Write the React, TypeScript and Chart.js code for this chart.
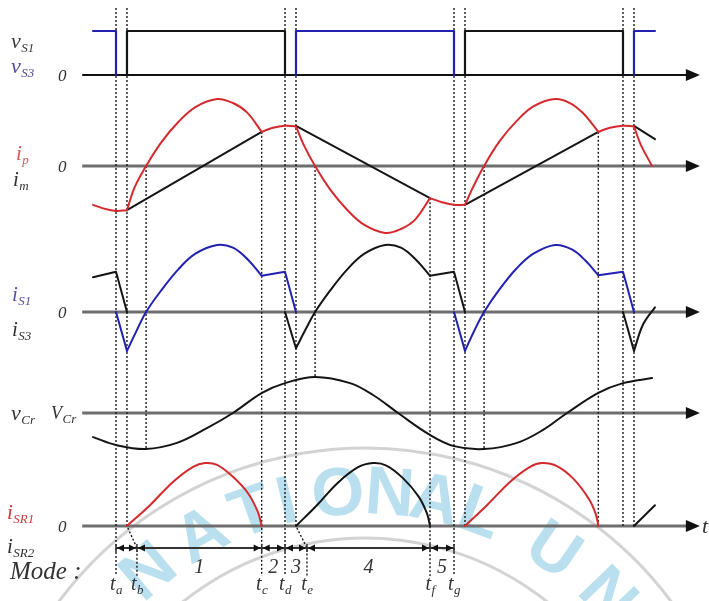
import React, { useEffect, useRef } from "react";
import { Chart, registerables } from "chart.js";

Chart.register(...registerables);

type Pt = [number, number];

// ---------- time (unit: half switching period = 10) ----------
const markerNames = ["a", "b", "c", "d", "e", "f", "g"];
const markerLabelTimes = [0, 1.24, 8.62, 10, 11.3, 18.58, 20];
const modeNames = ["1", "2", "3", "4", "5"];

const guideTimes = [0, 0.65, 1.78, 8.62, 10, 10.65, 11.78, 18.58, 20, 20.65, 21.78, 28.54, 30, 30.65];
const guideStartIp: (number | null)[] = [null, null, 0, 0.51, null, null, 0, -0.48, null, null, 0, 0.51, null, null];
const guideEnd = ["label", "slant", "vcrMin", "label", "label", "slant", "vcrMax", "label", "label", "isr", "vcrMin", "isr", "isr", "isr"];
const guideSlantTo: (number | null)[] = [null, 1.24, null, null, null, 11.3, null, null, null, null, null, null, null, null];

// ---------- gate voltages (normalised) ----------
const vS3Lines: Pt[][] = [
  [[-1.36, 1], [0, 1], [0, 0]],
  [[10.65, 0], [10.65, 1], [20, 1], [20, 0]],
  [[30.65, 0], [30.65, 1], [31.89, 1]],
];
const vS1Lines: Pt[][] = [
  [[0.65, 0], [0.65, 1], [10, 1], [10, 0]],
  [[20.65, 0], [20.65, 1], [30, 1], [30, 0]],
];

// ---------- primary & magnetising current ----------
const ipCurves: Pt[][] = [
  [[-1.36, -0.58], [-0.65, -0.64], [0, -0.67], [0.65, -0.66]],
  [[0.65, -0.66], [1.1, -0.32], [1.78, 0], [2.7, 0.36], [3.7, 0.66], [4.7, 0.88], [5.98, 1.0], [6.92, 0.94], [7.75, 0.8], [8.62, 0.51]],
  [[8.62, 0.51], [9.29, 0.57], [10, 0.6], [10.65, 0.59]],
  [[10.65, 0.59], [11.1, 0.32], [11.78, 0], [12.7, -0.36], [13.7, -0.66], [14.7, -0.88], [15.92, -1.0], [16.86, -0.94], [17.7, -0.8], [18.58, -0.48]],
  [[18.58, -0.48], [19.29, -0.54], [20, -0.58], [20.65, -0.58]],
  [[20.65, -0.58], [21.1, -0.33], [21.78, 0], [22.7, 0.37], [23.7, 0.67], [24.7, 0.89], [25.98, 1.0], [26.86, 0.94], [27.63, 0.79], [28.54, 0.51]],
  [[28.54, 0.51], [29.23, 0.57], [30, 0.6], [30.65, 0.59]],
  [[30.65, 0.59], [31.05, 0.32], [31.72, 0]],
];
const imLines: Pt[][] = [
  [[0.65, -0.66], [8.62, 0.51]],
  [[10.65, 0.6], [18.58, -0.48]],
  [[20.65, -0.58], [28.54, 0.51]],
  [[30.65, 0.6], [31.89, 0.4]],
];

// ---------- switch currents ----------
const iS1Lines: Pt[][] = [
  [[0, 0], [0.65, -0.58]],
  [[8.62, 0.54], [10, 0.6], [10.65, 0]],
  [[20, 0], [20.65, -0.58]],
  [[28.54, 0.55], [30, 0.6], [30.65, 0]],
];
const iS1Curves: Pt[][] = [
  [[0.65, -0.58], [1.2, -0.29], [1.78, 0], [2.7, 0.33], [3.7, 0.64], [4.7, 0.87], [5.98, 1.0], [6.92, 0.96], [7.81, 0.78], [8.62, 0.54]],
  [[20.65, -0.58], [21.2, -0.28], [21.78, 0], [22.7, 0.34], [23.7, 0.65], [24.7, 0.87], [25.98, 1.0], [27.0, 0.93], [27.8, 0.76], [28.54, 0.55]],
];
const iS3Lines: Pt[][] = [
  [[-1.36, 0.52], [0, 0.6], [0.65, 0]],
  [[10, 0], [10.65, -0.54]],
  [[18.58, 0.54], [20, 0.6], [20.65, 0]],
  [[30, 0], [30.65, -0.58]],
];
const iS3Curves: Pt[][] = [
  [[10.65, -0.54], [11.2, -0.27], [11.78, 0], [12.7, 0.33], [13.7, 0.64], [14.7, 0.87], [15.92, 1.0], [16.86, 0.96], [17.75, 0.78], [18.58, 0.54]],
  [[30.65, -0.58], [31.18, -0.19], [31.89, 0.07]],
];

// ---------- resonant capacitor voltage ----------
const vCrCurve: Pt[] = [
  [-1.36, -0.67], [0, -0.89], [1.78, -1.0], [3.61, -0.83], [5.38, -0.42], [6.92, 0], [8.64, 0.56], [10, 0.83],
  [11.78, 1.0], [13.85, 0.83], [15.21, 0.5], [16.69, 0], [18.58, -0.61], [20, -0.92], [21.78, -1.0], [23.73, -0.83],
  [25.27, -0.47], [26.69, 0], [28.54, 0.56], [30, 0.83], [31.72, 0.97],
];

// ---------- rectifier currents ----------
const iSR1Curves: Pt[][] = [
  [[0.65, 0], [2.01, 0.33], [3.37, 0.7], [4.56, 0.94], [5.27, 1.0], [5.98, 0.97], [6.92, 0.78], [7.81, 0.52], [8.4, 0.22], [8.62, 0]],
  [[20.65, 0], [21.95, 0.33], [23.31, 0.7], [24.5, 0.94], [25.21, 1.0], [26.09, 0.95], [27.1, 0.74], [28.0, 0.42], [28.4, 0.18], [28.54, 0]],
];
const iSR2Curves: Pt[][] = [
  [[10.65, 0], [11.89, 0.33], [13.1, 0.68], [14.3, 0.93], [15.21, 1.0], [16.0, 0.96], [16.98, 0.76], [17.9, 0.47], [18.4, 0.2], [18.58, 0]],
];
const iSR2Lines: Pt[][] = [[[30.65, 0], [31.89, 0.33]]];

// ---------- watermark ----------
const wmLetters = ["N", "A", "T", "I", "O", "N", "A", "L", "U", "N"];
const wmAngles = [-40, -29, -19.6, -13.4, -4.6, 4.2, 12, 20, 34, 46];

// ---------- layout (pixels) ----------
const W = 709;
const H = 601;
const X_ORIGIN = 116;
const PX_PER_UNIT = 16.9;
const panels: Record<string, { zero: number; unit: number }> = {
  yVs: { zero: 75, unit: 44 },
  yI: { zero: 166, unit: 67 },
  yIs: { zero: 312, unit: 67 },
  yVc: { zero: 413, unit: 36 },
  yIsr: { zero: 526, unit: 63 },
};
const AXIS_T0 = -2.0;
const AXIS_T1 = 34.55;
const GUIDE_TOP = 8;
const GUIDE_BOTTOM = 576;
const MODE_ROW = 548;

const RED = "#d42a2e";
const BLUE = "#2222b0";
const BLACK = "#151515";
const SERIF = '"Liberation Serif", "Times New Roman", serif';

function ds(pts: Pt[], yAxisID: string, color: string, smooth: boolean, width = 2, order = 0) {
  return {
    data: pts.map(([x, y]) => ({ x, y })),
    xAxisID: "x",
    yAxisID,
    borderColor: color,
    backgroundColor: color,
    borderWidth: width,
    pointRadius: 0,
    pointHoverRadius: 0,
    fill: false,
    tension: smooth ? 0.38 : 0,
    borderJoinStyle: "round",
    borderCapStyle: "round",
    order,
  };
}

function subText(ctx: CanvasRenderingContext2D, x: number, y: number, main: string, sub: string, color: string, size = 21, subSize = 13, drop = 4) {
  ctx.fillStyle = color;
  ctx.textAlign = "left";
  ctx.textBaseline = "alphabetic";
  ctx.font = `italic ${size}px ${SERIF}`;
  ctx.fillText(main, x, y);
  const w = ctx.measureText(main).width;
  ctx.font = `italic ${subSize}px ${SERIF}`;
  ctx.fillText(sub, x + w + 0.5, y + drop);
}

const watermarkPlugin = {
  id: "watermark",
  beforeDatasetsDraw(chart: any) {
    const ctx: CanvasRenderingContext2D = chart.ctx;
    const cx = 365, cy = 830, r = 335;
    ctx.save();
    ctx.strokeStyle = "rgba(140,140,140,0.38)";
    ctx.lineWidth = 3;
    ctx.beginPath();
    ctx.arc(cx, cy, 382, -Math.PI / 2 - 0.95, -Math.PI / 2 + 1.0);
    ctx.stroke();
    ctx.beginPath();
    ctx.arc(cx, cy, 292, -Math.PI / 2 - 0.95, -Math.PI / 2 + 1.0);
    ctx.stroke();
    ctx.fillStyle = "rgba(40,160,205,0.32)";
    ctx.font = 'bold 68px "Liberation Sans", Arial, sans-serif';
    ctx.textAlign = "center";
    ctx.textBaseline = "middle";
    wmLetters.forEach((ch, i) => {
      const a = (wmAngles[i] * Math.PI) / 180;
      ctx.save();
      ctx.translate(cx + r * Math.sin(a), cy - r * Math.cos(a));
      ctx.rotate(a);
      ctx.fillText(ch, 0, 0);
      ctx.restore();
    });
    ctx.restore();
  },
};

const framePlugin = {
  id: "frame",
  beforeDatasetsDraw(chart: any) {
    const ctx: CanvasRenderingContext2D = chart.ctx;
    const xs = chart.scales.x;
    const x0 = xs.getPixelForValue(AXIS_T0);
    const x1 = xs.getPixelForValue(AXIS_T1);
    ctx.save();
    Object.keys(panels).forEach((id) => {
      const y = chart.scales[id].getPixelForValue(0);
      ctx.strokeStyle = id === "yVs" ? "#111" : "#6e6e6e";
      ctx.lineWidth = id === "yVs" ? 2 : 3;
      ctx.beginPath();
      ctx.moveTo(x0, y);
      ctx.lineTo(x1 - 10, y);
      ctx.stroke();
      ctx.fillStyle = "#111";
      ctx.beginPath();
      ctx.moveTo(x1, y);
      ctx.lineTo(x1 - 14, y - 6);
      ctx.lineTo(x1 - 14, y + 6);
      ctx.closePath();
      ctx.fill();
    });
    const ipS = chart.scales.yI;
    const vcS = chart.scales.yVc;
    const isrY = chart.scales.yIsr.getPixelForValue(0);
    ctx.strokeStyle = "#1a1a1a";
    ctx.lineWidth = 1.4;
    ctx.setLineDash([2, 2]);
    guideTimes.forEach((t, i) => {
      const x = xs.getPixelForValue(t);
      const s = guideStartIp[i];
      const yTop = s === null ? GUIDE_TOP : ipS.getPixelForValue(s);
      const end = guideEnd[i];
      ctx.beginPath();
      ctx.moveTo(x, yTop);
      if (end === "label") ctx.lineTo(x, GUIDE_BOTTOM);
      else if (end === "isr") ctx.lineTo(x, isrY);
      else if (end === "vcrMin") ctx.lineTo(x, vcS.getPixelForValue(-1));
      else if (end === "vcrMax") ctx.lineTo(x, vcS.getPixelForValue(1));
      else if (end === "slant") {
        const xl = xs.getPixelForValue(guideSlantTo[i] as number);
        ctx.lineTo(x, isrY);
        ctx.lineTo(xl, MODE_ROW);
        ctx.lineTo(xl, GUIDE_BOTTOM);
      }
      ctx.stroke();
    });
    ctx.setLineDash([]);
    const mx = markerLabelTimes.map((t) => xs.getPixelForValue(t));
    ctx.strokeStyle = "#333";
    ctx.lineWidth = 2;
    ctx.beginPath();
    ctx.moveTo(mx[0], MODE_ROW);
    ctx.lineTo(mx[mx.length - 1], MODE_ROW);
    ctx.stroke();
    ctx.fillStyle = "#111";
    ctx.lineWidth = 1.5;
    mx.forEach((x, i) => {
      ctx.beginPath();
      ctx.moveTo(x, MODE_ROW - 4);
      ctx.lineTo(x, MODE_ROW + 4);
      ctx.stroke();
      if (i > 0) {
        ctx.beginPath();
        ctx.moveTo(x - 1, MODE_ROW);
        ctx.lineTo(x - 8, MODE_ROW - 3.5);
        ctx.lineTo(x - 8, MODE_ROW + 3.5);
        ctx.closePath();
        ctx.fill();
      }
      if (i < mx.length - 1) {
        ctx.beginPath();
        ctx.moveTo(x + 1, MODE_ROW);
        ctx.lineTo(x + 8, MODE_ROW - 3.5);
        ctx.lineTo(x + 8, MODE_ROW + 3.5);
        ctx.closePath();
        ctx.fill();
      }
    });
    ctx.restore();
  },
};

const textPlugin = {
  id: "texts",
  afterDatasetsDraw(chart: any) {
    const ctx: CanvasRenderingContext2D = chart.ctx;
    const xs = chart.scales.x;
    ctx.save();
    const zero = (id: string) => {
      const y = chart.scales[id].getPixelForValue(0);
      ctx.fillStyle = "#333";
      ctx.font = `italic 17px ${SERIF}`;
      ctx.textAlign = "left";
      ctx.textBaseline = "alphabetic";
      ctx.fillText("0", 58, y + 6);
    };
    subText(ctx, 11, 48, "v", "S1", "#3a3a3a", 22);
    subText(ctx, 11, 73, "v", "S3", "#4b4b98", 22);
    zero("yVs");
    subText(ctx, 16, 160, "i", "p", "#d25a5a");
    subText(ctx, 13, 186, "i", "m", "#333");
    zero("yI");
    subText(ctx, 12, 301, "i", "S1", "#5252a8");
    subText(ctx, 12, 336, "i", "S3", "#333");
    zero("yIs");
    subText(ctx, 11, 420, "v", "Cr", "#333", 22);
    subText(ctx, 51, 419, "V", "Cr", "#333", 18);
    subText(ctx, 7, 519, "i", "SR1", "#c83a3a");
    subText(ctx, 7, 553, "i", "SR2", "#333");
    zero("yIsr");
    ctx.fillStyle = "#333";
    ctx.font = `italic 22px ${SERIF}`;
    ctx.fillText("t", 702, 533);
    ctx.font = `italic 25px ${SERIF}`;
    ctx.fillStyle = "#333";
    ctx.fillText("Mode :", 10, 579);
    const mx = markerLabelTimes.map((t) => xs.getPixelForValue(t));
    ctx.textAlign = "center";
    ctx.font = `italic 20px ${SERIF}`;
    modeNames.forEach((m, i) => {
      ctx.fillText(m, (mx[i + 1] + mx[i + 2]) / 2, 573);
    });
    markerNames.forEach((n, i) => {
      ctx.font = `italic 20px ${SERIF}`;
      const tw = ctx.measureText("t").width;
      ctx.font = `italic 13px ${SERIF}`;
      const sw = ctx.measureText(n).width;
      subText(ctx, mx[i] - (tw + sw) / 2, 590, "t", n, "#333", 20, 13, 4);
      ctx.textAlign = "center";
    });
    ctx.restore();
  },
};

export default function App() {
  const ref = useRef<HTMLCanvasElement | null>(null);

  useEffect(() => {
    document.body.style.margin = "0";
    const canvas = ref.current;
    if (!canvas) return;

    const datasets: any[] = [];
    vS3Lines.forEach((s) => datasets.push(ds(s, "yVs", BLUE, false, 2.2)));
    vS1Lines.forEach((s) => datasets.push(ds(s, "yVs", BLACK, false, 2.2)));
    ipCurves.forEach((s) => datasets.push(ds(s, "yI", RED, true, 2, 0)));
    imLines.forEach((s) => datasets.push(ds(s, "yI", BLACK, false, 2, 1)));
    iS1Lines.forEach((s) => datasets.push(ds(s, "yIs", BLUE, false, 2)));
    iS1Curves.forEach((s) => datasets.push(ds(s, "yIs", BLUE, true, 2)));
    iS3Lines.forEach((s) => datasets.push(ds(s, "yIs", BLACK, false, 2)));
    iS3Curves.forEach((s) => datasets.push(ds(s, "yIs", BLACK, true, 2)));
    datasets.push(ds(vCrCurve, "yVc", BLACK, true, 2));
    iSR1Curves.forEach((s) => datasets.push(ds(s, "yIsr", RED, true, 2)));
    iSR2Curves.forEach((s) => datasets.push(ds(s, "yIsr", BLACK, true, 2)));
    iSR2Lines.forEach((s) => datasets.push(ds(s, "yIsr", BLACK, false, 2)));

    const scales: any = {
      x: {
        type: "linear",
        display: false,
        min: -X_ORIGIN / PX_PER_UNIT,
        max: (W - X_ORIGIN) / PX_PER_UNIT,
      },
    };
    Object.keys(panels).forEach((id) => {
      const p = panels[id];
      scales[id] = {
        type: "linear",
        axis: "y",
        position: "left",
        display: false,
        min: (p.zero - H) / p.unit,
        max: p.zero / p.unit,
      };
    });

    const chart = new Chart(canvas, {
      type: "line",
      data: { datasets },
      options: {
        responsive: false,
        animation: false,
        events: [],
        layout: { padding: 0 },
        scales,
        plugins: {
          legend: { display: false },
          tooltip: { enabled: false },
          title: { display: false },
        },
      } as any,
      plugins: [watermarkPlugin, framePlugin, textPlugin],
    });
    return () => chart.destroy();
  }, []);

  return (
    <div style={{ width: W, height: H, background: "#fff" }}>
      <canvas ref={ref} width={W} height={H} style={{ display: "block" }} />
    </div>
  );
}
